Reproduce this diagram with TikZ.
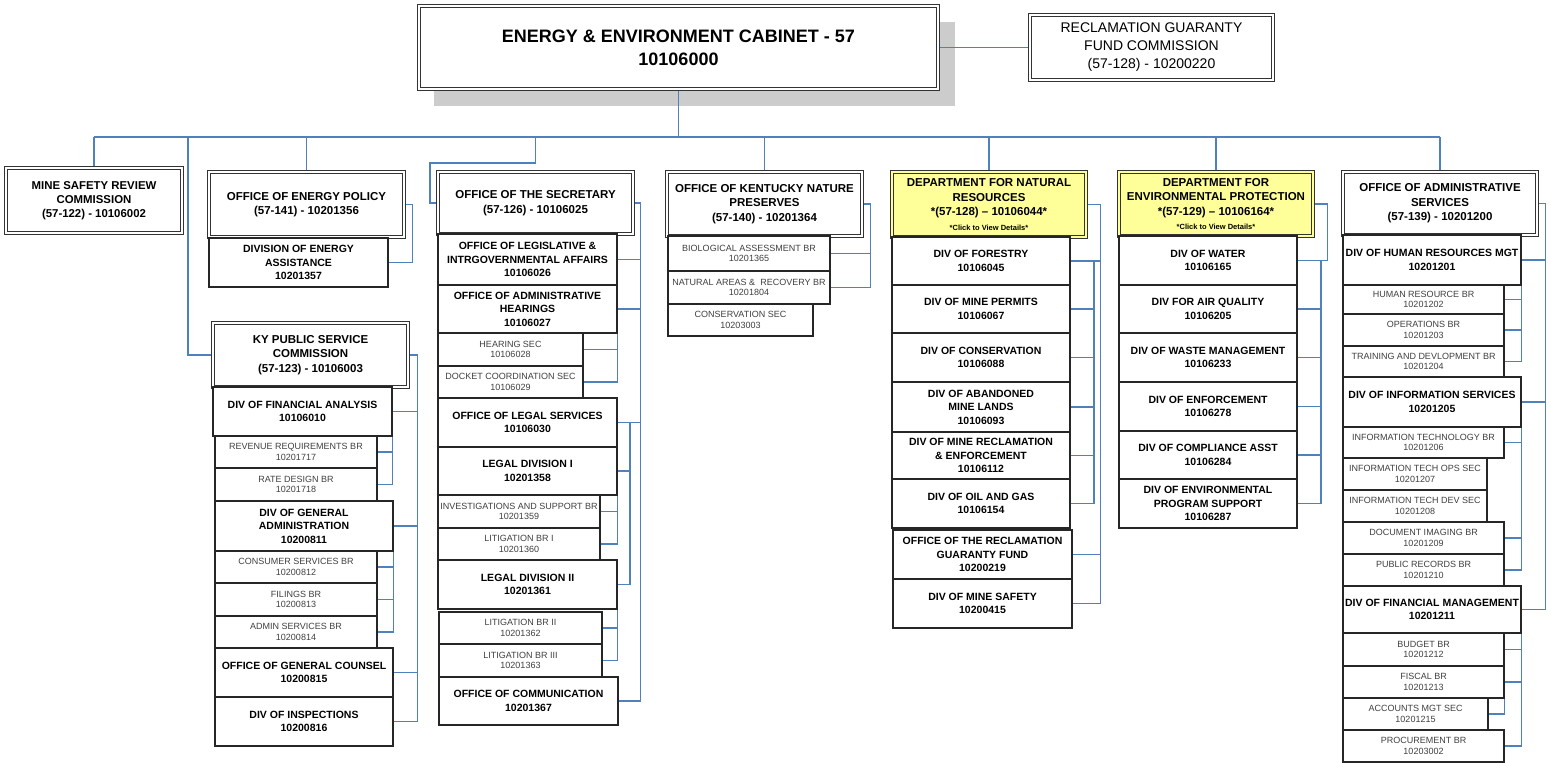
\documentclass[tikz,border=0pt]{standalone}
\usepackage{fontspec}
\setmainfont{Liberation Sans}
\pgfdeclarelayer{bg}
\pgfsetlayers{bg,main}
\definecolor{linkblue}{RGB}{79,129,189}
\definecolor{deptyellow}{RGB}{255,255,153}
\definecolor{shadowgray}{RGB}{204,204,204}
\newcommand\octitle{\fontsize{18}{23}\selectfont\bfseries}
\newcommand\ocrgf{\fontsize{14}{18}\selectfont}
\newcommand\ochdr{\fontsize{11.5}{14.5}\selectfont\bfseries}
\newcommand\ochds{\fontsize{11.4}{14}\selectfont\bfseries}
\newcommand\ocdiv{\fontsize{10.5}{13.5}\selectfont\bfseries}
\newcommand\ocbr{\fontsize{9}{10.5}\selectfont}
\newcommand\octiny{\fontsize{7.5}{9}\selectfont\bfseries}
\newcommand\ocbox[7]{\node[#1, minimum width={(#5-#3)*1pt}, minimum height={(#6-#4)*1pt}] (#2) at ({(#3+#5)/2},{(#4+#6)/2}) {#7};}
\tikzset{
  dbl/.style={draw=black!80, double=white, double distance=1.8pt, line width=0.8pt, fill=white, align=center, inner sep=0pt},
  ttl/.style={dbl, font=\octitle},
  rgfbox/.style={dbl, font=\ocrgf},
  hdr/.style={dbl, font=\ochdr},
  hdrs/.style={dbl, font=\ochds},
  dept/.style={dbl, double=deptyellow, fill=deptyellow, font=\ochdr},
  div/.style={draw=black!85, line width=1.2pt, fill=white, align=center, inner sep=0pt, font=\ocdiv},
  br/.style={draw=black!85, line width=1.2pt, fill=white, align=center, inner sep=0pt, font=\ocbr, text=black!75},
  conn/.style={draw=linkblue, line width=1.5pt},
}
\begin{document}
\begin{tikzpicture}[x=1pt,y=-1pt]
\useasboundingbox (0,0) rectangle (1551,763);
% top
\ocbox{ttl}{top}{419}{6}{938}{89}{ENERGY \& ENVIRONMENT CABINET - 57\\10106000}
\ocbox{rgfbox}{rgf}{1030}{15}{1273}{80}{RECLAMATION GUARANTY\\FUND COMMISSION\\(57-128) - 10200220}
% mine safety
\ocbox{hdrs}{msrc}{6}{168}{182}{233}{MINE SAFETY REVIEW\\COMMISSION\\(57-122) - 10106002}
% energy policy
\ocbox{hdr}{ep}{209}{172}{404}{237}{OFFICE OF ENERGY POLICY\\(57-141) - 10201356}
\ocbox{div}{dea}{209}{238}{388}{287}{DIVISION OF ENERGY\\ASSISTANCE\\10201357}
% PSC
\ocbox{hdr}{psc}{213}{323}{408}{387}{KY PUBLIC SERVICE\\COMMISSION\\(57-123) - 10106003}
\ocbox{div}{dfa}{213}{387}{392}{436}{DIV OF FINANCIAL ANALYSIS\\10106010}
\ocbox{br}{rev}{215}{436}{377}{468}{REVENUE REQUIREMENTS BR\\10201717}
\ocbox{br}{rate}{215}{468}{377}{501}{RATE DESIGN  BR\\10201718}
\ocbox{div}{dga}{215}{501}{393}{551}{DIV OF GENERAL\\ADMINISTRATION\\10200811}
\ocbox{br}{csbr}{215}{551}{377}{583}{CONSUMER SERVICES BR\\10200812}
\ocbox{br}{fil}{215}{583}{377}{616}{FILINGS BR\\10200813}
\ocbox{br}{asbr}{215}{616}{377}{648}{ADMIN SERVICES BR\\10200814}
\ocbox{div}{ogc}{215}{648}{393}{697}{OFFICE OF GENERAL COUNSEL\\10200815}
\ocbox{div}{insp}{215}{697}{393}{746}{DIV OF INSPECTIONS\\10200816}
% secretary
\ocbox{hdr}{sec}{438}{172}{633}{234}{OFFICE OF THE SECRETARY\\(57-126) - 10106025}
\ocbox{div}{leg}{438}{234}{617}{285}{OFFICE OF LEGISLATIVE \&\\INTRGOVERNMENTAL AFFAIRS\\10106026}
\ocbox{div}{ah}{438}{285}{617}{333}{OFFICE OF ADMINISTRATIVE\\HEARINGS\\10106027}
\ocbox{br}{hs}{438}{333}{583}{366}{HEARING SEC\\10106028}
\ocbox{br}{dc}{438}{366}{583}{398}{DOCKET COORDINATION SEC\\10106029}
\ocbox{div}{ls}{438}{398}{617}{447}{OFFICE OF LEGAL SERVICES\\10106030}
\ocbox{div}{ldone}{438}{447}{617}{495}{LEGAL DIVISION I\\10201358}
\ocbox{br}{inv}{438}{495}{600}{528}{INVESTIGATIONS AND SUPPORT BR\\10201359}
\ocbox{br}{litone}{438}{528}{600}{560}{LITIGATION BR I\\10201360}
\ocbox{div}{ldtwo}{438}{560}{617}{609}{LEGAL DIVISION II\\10201361}
\ocbox{br}{littwo}{439}{612}{602}{644}{LITIGATION BR II\\10201362}
\ocbox{br}{litthree}{439}{644}{602}{677}{LITIGATION BR III\\10201363}
\ocbox{div}{comm}{439}{677}{618}{725}{OFFICE OF COMMUNICATION\\10201367}
% nature preserves
\ocbox{hdr}{nat}{667}{172}{862}{236}{OFFICE OF KENTUCKY NATURE\\PRESERVES\\(57-140) - 10201364}
\ocbox{br}{bio}{668}{236}{830}{271}{BIOLOGICAL ASSESSMENT BR\\10201365}
\ocbox{br}{nar}{668}{271}{830}{304}{NATURAL AREAS \&\ \ RECOVERY BR\\10201804}
\ocbox{br}{csec}{668}{304}{813}{336}{CONSERVATION SEC\\10203003}
% DNR
\ocbox{dept}{dnr}{892}{172}{1086}{237}{DEPARTMENT FOR NATURAL\\RESOURCES\\*(57-128) – 10106044*\\{\octiny *Click to View Details*}}
\ocbox{div}{dfor}{892}{237}{1070}{285}{DIV OF FORESTRY\\10106045}
\ocbox{div}{perm}{892}{285}{1070}{333}{DIV OF MINE PERMITS\\10106067}
\ocbox{div}{dcon}{892}{333}{1070}{382}{DIV OF CONSERVATION\\10106088}
\ocbox{div}{aml}{892}{382}{1070}{432}{DIV OF ABANDONED\\MINE LANDS\\10106093}
\ocbox{div}{mre}{892}{432}{1070}{479}{DIV OF MINE RECLAMATION\\\& ENFORCEMENT\\10106112}
\ocbox{div}{oil}{892}{479}{1070}{528}{DIV OF OIL AND GAS\\10106154}
\ocbox{div}{orgf}{893}{530}{1072}{579}{OFFICE OF THE RECLAMATION\\GUARANTY FUND\\10200219}
\ocbox{div}{mns}{893}{579}{1072}{628}{DIV OF MINE SAFETY\\10200415}
% DEP
\ocbox{dept}{dep}{1119}{172}{1313}{236}{DEPARTMENT FOR\\ENVIRONMENTAL PROTECTION\\*(57-129) – 10106164*\\{\octiny *Click to View Details*}}
\ocbox{div}{wat}{1119}{236}{1297}{285}{DIV OF WATER\\10106165}
\ocbox{div}{air}{1119}{285}{1297}{333}{DIV FOR AIR QUALITY\\10106205}
\ocbox{div}{wst}{1119}{333}{1297}{382}{DIV OF WASTE MANAGEMENT\\10106233}
\ocbox{div}{enf}{1119}{382}{1297}{431}{DIV OF ENFORCEMENT\\10106278}
\ocbox{div}{cmp}{1119}{431}{1297}{479}{DIV OF COMPLIANCE ASST\\10106284}
\ocbox{div}{eps}{1119}{479}{1297}{528}{DIV OF ENVIRONMENTAL\\PROGRAM SUPPORT\\10106287}
% admin services
\ocbox{hdr}{oas}{1343}{172}{1537}{235}{OFFICE OF ADMINISTRATIVE\\SERVICES\\(57-139) - 10201200}
\ocbox{div}{hrm}{1343}{235}{1521}{285}{DIV OF HUMAN RESOURCES MGT\\10201201}
\ocbox{br}{hrb}{1343}{285}{1504}{314}{HUMAN RESOURCE BR\\10201202}
\ocbox{br}{opb}{1343}{314}{1504}{346}{OPERATIONS BR\\10201203}
\ocbox{br}{trn}{1343}{346}{1504}{377}{TRAINING AND DEVLOPMENT BR\\10201204}
\ocbox{div}{dis}{1343}{377}{1521}{427}{DIV OF INFORMATION SERVICES\\10201205}
\ocbox{br}{itb}{1343}{427}{1504}{458}{INFORMATION TECHNOLOGY BR\\10201206}
\ocbox{br}{ito}{1343}{458}{1487}{490}{INFORMATION TECH OPS SEC\\10201207}
\ocbox{br}{itd}{1343}{490}{1487}{522}{INFORMATION TECH DEV SEC\\10201208}
\ocbox{br}{doc}{1343}{522}{1504}{554}{DOCUMENT IMAGING BR\\10201209}
\ocbox{br}{pub}{1343}{554}{1504}{586}{PUBLIC RECORDS BR\\10201210}
\ocbox{div}{dfm}{1343}{586}{1521}{633}{DIV OF FINANCIAL MANAGEMENT\\10201211}
\ocbox{br}{bud}{1343}{633}{1504}{666}{BUDGET BR\\10201212}
\ocbox{br}{fis}{1343}{666}{1504}{698}{FISCAL BR\\10201213}
\ocbox{br}{acc}{1343}{698}{1488}{730}{ACCOUNTS MGT SEC\\10201215}
\ocbox{br}{pro}{1343}{730}{1504}{762}{PROCUREMENT BR\\10203002}

\begin{pgfonlayer}{bg}
\fill[white] (0,0) rectangle (1551,763);
\fill[shadowgray] (434,22) rectangle (955,106);
\coordinate (bus) at (0,137);
\coordinate (pscdrop) at (188,137);
\coordinate (seccorner) at (430,163);
% top connectors
\draw[conn] (top.east) -- (rgf.west);
\draw[conn] (top.south) -- (top.south |- bus);
\draw[conn] (pscdrop -| msrc.north) -- (oas.north |- bus);
\foreach \n in {msrc,ep,nat,dnr,dep,oas}{\draw[conn] (\n.north |- bus) -- (\n.north);}
\draw[conn] (pscdrop) |- (psc.west);
\draw[conn] (sec.north |- bus) |- (seccorner) |- (sec.west);
% energy policy
\draw[conn] (ep.east) -- ++(8,0) |- (dea.east);
% PSC
\draw[conn] (psc.east) -- ++(9,0) coordinate (pb) |- (insp.east);
\foreach \n in {dfa,dga,ogc}{\draw[conn] (\n.east) -- (\n.east -| pb);}
\draw[conn] (dfa.east) |- (rate.east);
\draw[conn] (rev.east) -- (rev.east -| dfa.east);
\draw[conn] (dga.east) |- (asbr.east);
\foreach \n in {csbr,fil}{\draw[conn] (\n.east) -- (\n.east -| dga.east);}
% secretary
\draw[conn] (sec.east) -- ++(7,0) coordinate (sb) |- (comm.east);
\foreach \n in {leg,ah,ls}{\draw[conn] (\n.east) -- (\n.east -| sb);}
\coordinate (sbb) at (630,0);
\draw[conn] (ls.east -| sbb) |- (ldtwo.east);
\draw[conn] (ldone.east) -- (ldone.east -| sbb);
\draw[conn] (ah.east) |- (dc.east);
\draw[conn] (hs.east) -- (hs.east -| ah.east);
\draw[conn] (ldone.east) |- (litone.east);
\draw[conn] (inv.east) -- (inv.east -| ldone.east);
\draw[conn] (ldtwo.east) |- (litthree.east);
\draw[conn] (littwo.east) -- (littwo.east -| ldtwo.east);
% nature
\draw[conn] (nat.east) -- ++(8,0) coordinate (nb) |- (nar.east);
\draw[conn] (bio.east) -- (bio.east -| nb);
% DNR
\draw[conn] (dnr.east) -- ++(14,0) coordinate (db) |- (mns.east);
\foreach \n in {dfor,orgf}{\draw[conn] (\n.east) -- (\n.east -| db);}
\coordinate (dbb) at (1094,0);
\draw[conn] (dfor.east -| dbb) |- (oil.east);
\foreach \n in {perm,dcon,aml,mre}{\draw[conn] (\n.east) -- (\n.east -| dbb);}
% DEP
\draw[conn] (dep.east) -- ++(14,0) coordinate (eb) |- (wat.east);
\coordinate (ebb) at (1321,0);
\draw[conn] (wat.east -| ebb) |- (eps.east);
\foreach \n in {air,wst,enf,cmp}{\draw[conn] (\n.east) -- (\n.east -| ebb);}
% admin
\draw[conn] (oas.east) -- ++(8,0) coordinate (ab) |- (dfm.east);
\foreach \n in {hrm,dis}{\draw[conn] (\n.east) -- (\n.east -| ab);}
\draw[conn] (hrm.east) |- (trn.east);
\foreach \n in {hrb,opb}{\draw[conn] (\n.east) -- (\n.east -| hrm.east);}
\draw[conn] (dis.east) |- (pub.east);
\foreach \n in {itb,doc}{\draw[conn] (\n.east) -- (\n.east -| dis.east);}
\draw[conn] (dfm.east) |- (pro.east);
\foreach \n in {bud,fis}{\draw[conn] (\n.east) -- (\n.east -| dfm.east);}
\draw[conn] (fis.south east) |- (acc.east);
\end{pgfonlayer}
\end{tikzpicture}
\end{document}
